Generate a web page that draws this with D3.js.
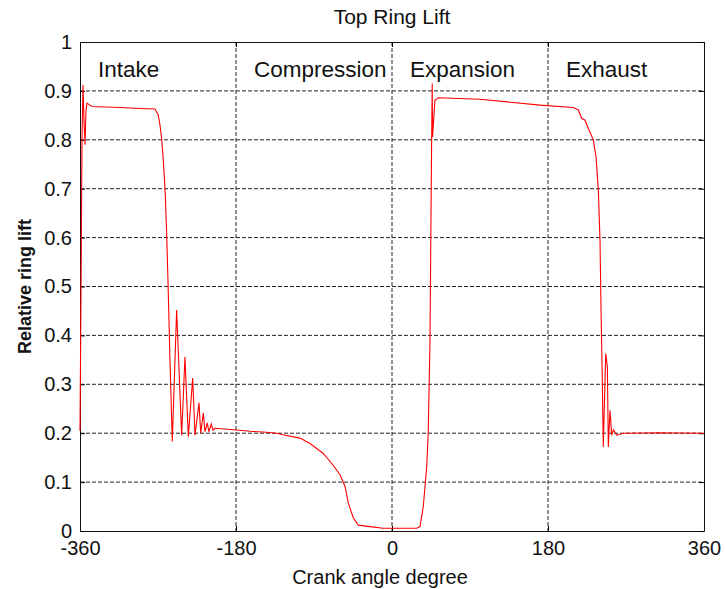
<!DOCTYPE html>
<html>
<head>
	<meta charset="utf-8">
	<title>top ring lift</title>
	<script src="https://d3js.org/d3.v7.min.js"></script>
	<style>
		body { margin: 0; background: white; }
		text { font-family: 'Liberation Sans', Arial, sans-serif; fill: #111; }
	</style>
</head>
<body>
	<svg id="chart" width="725" height="589"></svg>
	<script type="text/javascript">

		// crank angle (deg) and relative ring lift
		var crankAngle = [-360, -358.8, -357.7, -356.5, -355.4, -354.2, -353.1, -351.9, -348.5, -346.2,
			-313.8, -290.8, -273.5, -269.7, -267.7, -265.7, -263.9, -261.9, -260.2, -258.5,
			-256.2, -253.5, -248.5, -242.7, -238.9, -235.0, -230.0, -227.3, -222.7, -220.7,
			-217.7, -215.8, -213.1, -211.3, -208.5, -206.6, -204.2, -179.2, -163.8, -145.0, -133.0,
			-125.8, -106.2, -94.6, -79.6, -68.1, -60.0, -54.2, -50.4, -44.7, -38.9,
			-25.4, -10.4, 28.5, 32.3, 36.1, 40.0, 41.8, 43.8, 44.9, 45.7,
			46.4, 46.8, 49.5, 53.3, 101.5, 170.8, 209.2, 215.0, 218.9, 222.7,
			226.5, 232.3, 235.4, 238.1, 240.0, 241.2, 242.7, 243.8, 246.6, 248.5,
			249.6, 251.5, 253.5, 255.4, 259.3, 266.9, 309.2, 360];
		var ringLift = [0.205, 0.5, 0.8, 0.912, 0.84, 0.79, 0.86, 0.875, 0.871, 0.868,
			0.866, 0.864, 0.863, 0.851, 0.83, 0.8, 0.759, 0.7, 0.62, 0.513,
			0.35, 0.183, 0.452, 0.196, 0.356, 0.193, 0.313, 0.196, 0.262, 0.2,
			0.241, 0.203, 0.221, 0.203, 0.219, 0.206, 0.21, 0.2065, 0.204, 0.202, 0.2,
			0.197, 0.19, 0.179, 0.159, 0.135, 0.115, 0.091, 0.057, 0.027, 0.012,
			0.009, 0.0055, 0.0055, 0.009, 0.05, 0.13, 0.2, 0.384, 0.622, 0.793,
			0.915, 0.806, 0.881, 0.886, 0.883, 0.871, 0.866, 0.861, 0.844, 0.84,
			0.823, 0.8, 0.765, 0.697, 0.595, 0.452, 0.302, 0.172, 0.363, 0.336,
			0.172, 0.247, 0.196, 0.207, 0.196, 0.2, 0.201, 0.2];

		var xTicks = [-360, -180, 0, 180, 360];
		var yTicks = [0, 0.1, 0.2, 0.3, 0.4, 0.5, 0.6, 0.7, 0.8, 0.9, 1];
		var phaseNames = ['Intake', 'Compression', 'Expansion', 'Exhaust'];
		var phaseStart = [-360, -180, 0, 180];

		var padLeft = 80, padTop = 42, width = 624, height = 489;

		var svg = d3.select('#chart');

		var xScale = d3.scaleLinear().domain([-360, 360]).range([padLeft, padLeft + width]);
		var yScale = d3.scaleLinear().domain([0, 1]).range([padTop + height, padTop]);

		// dashed grid
		svg.append('g')
			.selectAll('line')
			.data(yTicks.slice(1, -1))
			.enter().append('line')
			.attr('x1', padLeft).attr('x2', padLeft + width)
			.attr('y1', d => yScale(d)).attr('y2', d => yScale(d))
			.attr('stroke', '#222')
			.attr('stroke-dasharray', '4,2');

		svg.append('g')
			.selectAll('line')
			.data(xTicks.slice(1, -1))
			.enter().append('line')
			.attr('x1', d => xScale(d)).attr('x2', d => xScale(d))
			.attr('y1', padTop).attr('y2', padTop + height)
			.attr('stroke', '#222')
			.attr('stroke-dasharray', '4,2');

		// axes, matlab style (inward ticks, box)
		svg.append('g')
			.attr('transform', 'translate(0,' + (padTop + height) + ')')
			.call(d3.axisBottom(xScale).tickValues(xTicks).tickFormat(d => String(d)).tickSizeInner(-5).tickSizeOuter(0).tickPadding(10))
			.call(g => g.selectAll('text').attr('font-size', 20).attr('font-family', 'Liberation Sans').attr('fill', '#111'));

		svg.append('g')
			.attr('transform', 'translate(' + padLeft + ',0)')
			.call(d3.axisLeft(yScale).tickValues(yTicks).tickFormat(d => String(d)).tickSizeInner(-5).tickSizeOuter(0).tickPadding(8))
			.call(g => g.selectAll('text').attr('font-size', 20).attr('font-family', 'Liberation Sans').attr('fill', '#111'));

		svg.append('g')
			.attr('transform', 'translate(0,' + padTop + ')')
			.call(d3.axisTop(xScale).tickValues(xTicks).tickSizeInner(-5).tickSizeOuter(0).tickFormat(''));

		svg.append('g')
			.attr('transform', 'translate(' + (padLeft + width) + ',0)')
			.call(d3.axisRight(yScale).tickValues(yTicks).tickSizeInner(-5).tickSizeOuter(0).tickFormat(''));

		svg.selectAll('.domain').attr('stroke', '#111');

		// the curve
		var line = d3.line()
			.x((d, i) => xScale(crankAngle[i]))
			.y(d => yScale(d));

		svg.append('path')
			.datum(ringLift)
			.attr('d', line)
			.attr('fill', 'none')
			.attr('stroke', '#ff0000')
			.attr('stroke-width', 1.1);

		// stroke phase labels
		svg.append('g')
			.selectAll('text')
			.data(phaseNames)
			.enter().append('text')
			.attr('x', (d, i) => xScale(phaseStart[i]) + 18)
			.attr('y', 77)
			.attr('font-size', 22.5)
			.text(d => d);

		svg.append('text')
			.attr('x', xScale(0))
			.attr('y', 24)
			.attr('text-anchor', 'middle')
			.attr('font-size', 21)
			.text('Top Ring Lift');

		svg.append('text')
			.attr('x', 380)
			.attr('y', 584)
			.attr('text-anchor', 'middle')
			.attr('font-size', 20)
			.text('Crank angle degree');

		svg.append('text')
			.attr('transform', 'translate(31,' + yScale(0.5) + ') rotate(-90)')
			.attr('text-anchor', 'middle')
			.attr('font-size', 18)
			.attr('font-weight', 'bold')
			.text('Relative ring lift');

	</script>
</body>
</html>
